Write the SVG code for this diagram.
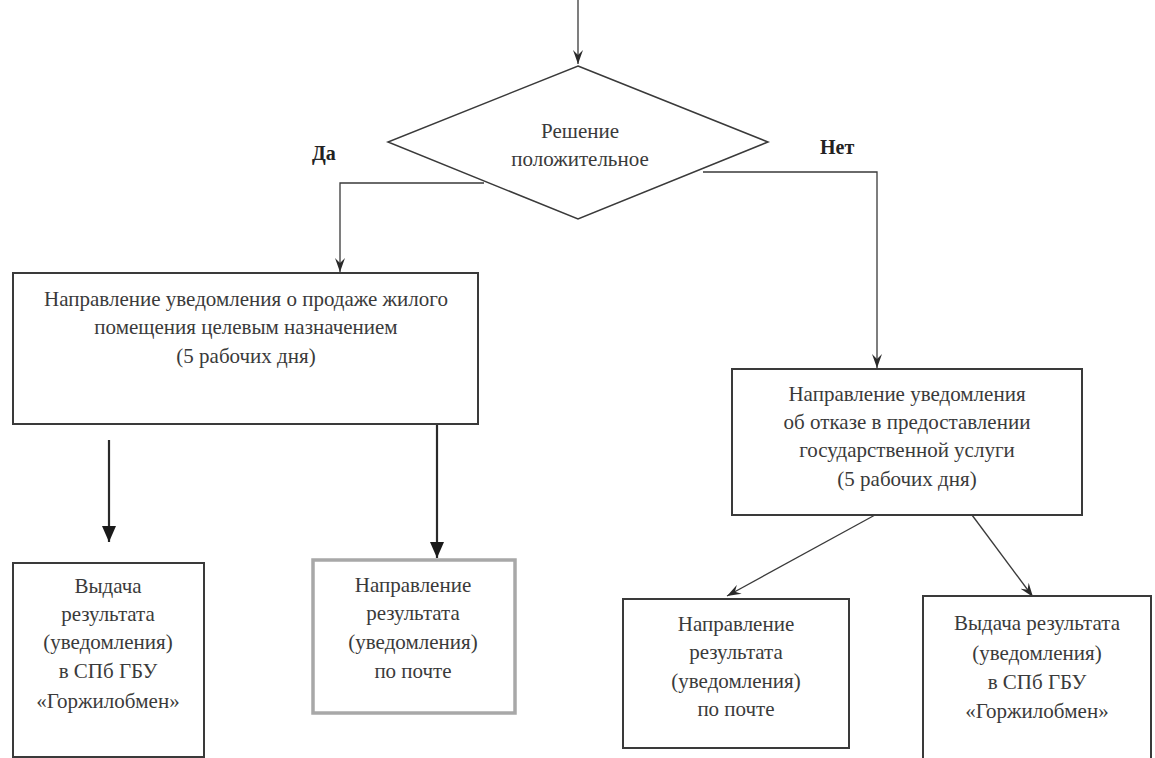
<svg xmlns="http://www.w3.org/2000/svg" width="1155" height="758" viewBox="0 0 1155 758" font-family="Liberation Serif, Times New Roman, serif">
<style>
.t{font-size:21px;fill:#3a3a3a;text-anchor:middle}
.b{font-size:20px;font-weight:bold;fill:#222}
.box{fill:#fff;stroke:#3a3a3a;stroke-width:2}
.ln{fill:none;stroke:#3a3a3a;stroke-width:1.3}
.lnh{fill:none;stroke:#2a2a2a;stroke-width:2.2}
</style>
<defs>
<marker id="av" viewBox="0 0 14 10" refX="14" refY="5" markerWidth="14" markerHeight="10" markerUnits="userSpaceOnUse" orient="auto">
<path d="M0,0 L14,5 L0,10 L5,5 z" fill="#2a2a2a"/>
</marker>
<marker id="af" viewBox="0 0 16 14" refX="16" refY="7" markerWidth="16" markerHeight="14" markerUnits="userSpaceOnUse" orient="auto">
<path d="M0,0 L16,7 L0,14 z" fill="#1a1a1a"/>
</marker>
</defs>
<rect width="1155" height="758" fill="#fff"/>
<g id="connectors">
<line class="ln" x1="578" y1="0" x2="578" y2="64" marker-end="url(#av)"/>
<polyline class="ln" points="484,183 340,183 340,272" marker-end="url(#av)"/>
<polyline class="ln" points="703,172 877,172 877,368" marker-end="url(#av)"/>
<line class="lnh" x1="109" y1="440" x2="109" y2="542" marker-end="url(#af)"/>
<line class="lnh" x1="437" y1="424" x2="437" y2="558" marker-end="url(#af)"/>
<line class="ln" x1="875" y1="515" x2="727" y2="596" marker-end="url(#av)"/>
<line class="ln" x1="972" y1="515" x2="1033" y2="597" marker-end="url(#av)"/>
<text class="b" x="312" y="160" font-family="Liberation Serif">Да</text>
<text class="b" x="820" y="154" font-family="Liberation Serif">Нет</text>
</g>
<g id="decision" font-family="Liberation Serif">
<polygon points="578,66 768,142 578,219 388,142" fill="#fff" stroke="#3a3a3a" stroke-width="1.5"/>
<text class="t" x="580" y="138">Решение</text>
<text class="t" x="580" y="166">положительное</text>
</g>
<g id="sale-notice" font-family="Liberation Serif">
<rect class="box" x="13" y="273" width="465" height="151"/>
<text class="t" x="246" y="306">Направление уведомления о продаже жилого</text>
<text class="t" x="246" y="334">помещения целевым назначением</text>
<text class="t" x="246" y="363">(5 рабочих дня)</text>
</g>
<g id="refusal-notice" font-family="Liberation Serif">
<rect class="box" x="732" y="369" width="350" height="146"/>
<text class="t" x="907" y="401">Направление уведомления</text>
<text class="t" x="907" y="429">об отказе в предоставлении</text>
<text class="t" x="907" y="457">государственной услуги</text>
<text class="t" x="907" y="486">(5 рабочих дня)</text>
</g>
<g id="issue-left" font-family="Liberation Serif">
<rect class="box" x="13" y="563" width="191" height="194"/>
<text class="t" x="108" y="593">Выдача</text>
<text class="t" x="108" y="621">результата</text>
<text class="t" x="108" y="649">(уведомления)</text>
<text class="t" x="108" y="678">в СПб ГБУ</text>
<text class="t" x="108" y="708">«Горжилобмен»</text>
</g>
<g id="mail-left" font-family="Liberation Serif">
<rect x="313" y="560" width="202" height="153" fill="#fff" stroke="#a8a8a8" stroke-width="3.5"/>
<text class="t" x="413" y="592">Направление</text>
<text class="t" x="413" y="620">результата</text>
<text class="t" x="413" y="649">(уведомления)</text>
<text class="t" x="413" y="678">по почте</text>
</g>
<g id="mail-right" font-family="Liberation Serif">
<rect class="box" x="623" y="599" width="226" height="149"/>
<text class="t" x="736" y="631">Направление</text>
<text class="t" x="736" y="659">результата</text>
<text class="t" x="736" y="688">(уведомления)</text>
<text class="t" x="736" y="716">по почте</text>
</g>
<g id="issue-right" font-family="Liberation Serif">
<rect class="box" x="923" y="596" width="228" height="170"/>
<text class="t" x="1037" y="630">Выдача результата</text>
<text class="t" x="1037" y="660">(уведомления)</text>
<text class="t" x="1037" y="689">в СПб ГБУ</text>
<text class="t" x="1037" y="718">«Горжилобмен»</text>
</g>
</svg>
